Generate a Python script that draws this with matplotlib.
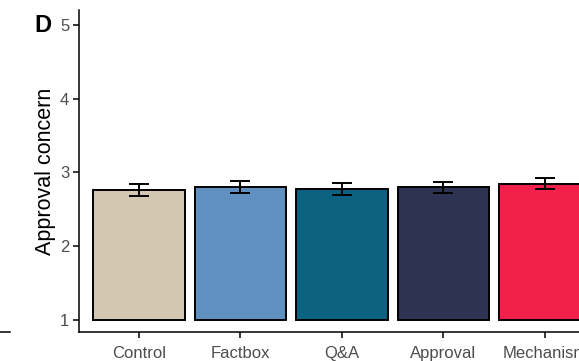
import numpy as np
import matplotlib.pyplot as plt
from matplotlib.lines import Line2D

plt.rcParams['font.family'] = ['Liberation Sans', 'DejaVu Sans']

# Data
groups = ['Control', 'Factbox', 'Q&A', 'Approval', 'Mechanism']
means = [2.76, 2.80, 2.78, 2.80, 2.85]
errors = [0.08, 0.08, 0.08, 0.075, 0.08]
colors = ['#D3C7B1', '#6090C0', '#0B6381', '#2E3253', '#F2214B']

fig = plt.figure(figsize=(5.79, 3.61), dpi=100)
ax = fig.add_axes([79 / 579, 29 / 361, 1 - 79 / 579 + 0.02, 322 / 361])

x = np.arange(1, len(groups) + 1)
base = 1
ax.bar(x, np.array(means) - base, bottom=base, width=0.9, color=colors,
       edgecolor='black', linewidth=1.4, zorder=2)
ax.errorbar(x, means, yerr=errors, fmt='none', ecolor='black',
            elinewidth=1.4, capsize=7, capthick=1.4, zorder=3)

ax.set_xlim(0.41, 5.45)
ax.set_ylim(0.84, 5.2)
ax.set_yticks([1, 2, 3, 4, 5])
ax.set_xticks(x)
ax.set_xticklabels(groups)
ax.set_ylabel('Approval concern', fontsize=15.5, color='black', labelpad=3)

for s in ['top', 'right']:
    ax.spines[s].set_visible(False)
for s in ['left', 'bottom']:
    ax.spines[s].set_linewidth(1.1)
ax.tick_params(axis='both', labelsize=12, labelcolor='#4D4D4D',
               length=4, width=1.1, pad=3)
ax.tick_params(axis='x', pad=6)

fig.text(34 / 579, 1 - 25 / 361, 'D', fontsize=17, fontweight='bold',
         ha='left', va='center')

# edge of neighbouring panel
fig.add_artist(Line2D([0, 10 / 579], [29 / 361, 29 / 361], color='black',
                      linewidth=1.1, transform=fig.transFigure))

fig.savefig('out.png', dpi=100)
